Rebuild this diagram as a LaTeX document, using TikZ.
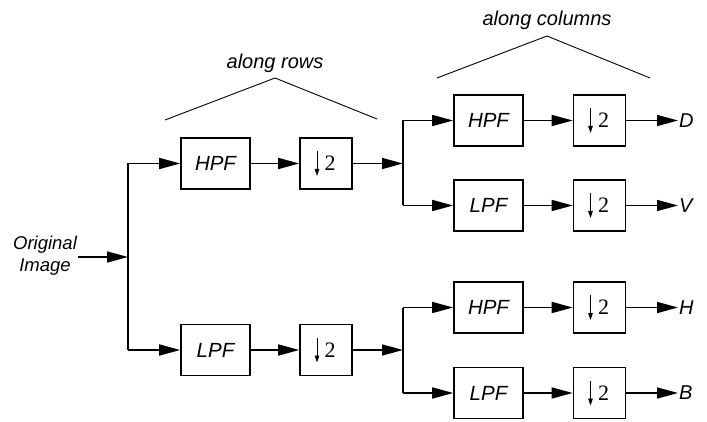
\documentclass[tikz,border=0pt]{standalone}
\usepackage[no-math]{fontspec}
\setmainfont{Liberation Sans}
\newfontfamily\twofont{Liberation Serif}
\usetikzlibrary{arrows.meta}
\newcommand{\dsamp}[3]{%
  \node[dn] (#1) at (#2,#3) {};
  \node[twol] (#1-two) at ([xshift=4pt]#1.center) {2};
  \draw[darr] ([xshift=-9pt,yshift=12.5pt]#1.center) -- ([xshift=-9pt,yshift=-12.5pt]#1.center);}
\begin{document}
\begin{tikzpicture}[x=1pt,y=-1pt,
 filt/.style={draw, line width=1.6pt, minimum width=69pt, minimum height=51pt, inner sep=0pt, font=\fontsize{20.5}{22}\selectfont\itshape},
 dn/.style={draw, line width=1.6pt, minimum width=52pt, minimum height=51pt, inner sep=0pt},
 twol/.style={inner sep=0pt, font=\fontsize{22}{22}\selectfont\twofont},
 darr/.style={line width=0.8pt, -{Triangle[length=7pt,width=4.5pt]}},
 lbl/.style={font=\fontsize{20}{22}\selectfont\itshape, inner sep=1pt},
 wire/.style={line width=1.6pt},
 arr/.style={wire, -{Triangle[length=21pt,width=11pt]}},
 bracket/.style={line width=0.9pt}]
\useasboundingbox (0,0) rectangle (707,422);

% input
\node[lbl, align=center, font=\fontsize{18.5}{22}\selectfont\itshape] (orig) at (45,256) {Original\\Image};
\coordinate (j1) at (128,257);

% stage 1
\node[filt] (h1) at (215.5,163.5) {HPF};
\dsamp{dh1}{326}{163.5}
\node[filt] (l1) at (215.5,350) {LPF};
\dsamp{dl1}{326}{350}

\coordinate (j2) at (403,163.5);
\coordinate (j3) at (403,350);

% stage 2 top
\node[filt] (hh) at (488.5,120.5) {HPF};
\dsamp{dhh}{599.5}{120.5}
\node[filt] (hl) at (488.5,205.5) {LPF};
\dsamp{dhl}{599.5}{205.5}
\node[lbl, anchor=west] (D) at (678,120.5) {D};
\node[lbl, anchor=west] (V) at (678,205.5) {V};

% stage 2 bottom
\node[filt] (lh) at (488.5,307.5) {HPF};
\dsamp{dlh}{599.5}{307.5}
\node[filt] (ll) at (488.5,393) {LPF};
\dsamp{dll}{599.5}{393}
\node[lbl, anchor=west] (H) at (678,307.5) {H};
\node[lbl, anchor=west] (B) at (678,393) {B};

% wires stage 1
\draw[arr] (orig.east |- j1) -- (j1);
\draw[wire] (h1.west -| j1) -- (l1.west -| j1);
\draw[arr] (h1.west -| j1) -- (h1.west);
\draw[arr] (l1.west -| j1) -- (l1.west);
\draw[arr] (h1) -- (dh1);
\draw[arr] (l1) -- (dl1);
\draw[arr] (dh1) -- (j2);
\draw[arr] (dl1) -- (j3);

% wires stage 2 top
\draw[wire] (hh.west -| j2) -- (hl.west -| j2);
\draw[arr] (hh.west -| j2) -- (hh.west);
\draw[arr] (hl.west -| j2) -- (hl.west);
\draw[arr] (hh) -- (dhh);
\draw[arr] (hl) -- (dhl);
\draw[arr] (dhh) -- (D);
\draw[arr] (dhl) -- (V);

% wires stage 2 bottom
\draw[wire] (lh.west -| j3) -- (ll.west -| j3);
\draw[arr] (lh.west -| j3) -- (lh.west);
\draw[arr] (ll.west -| j3) -- (ll.west);
\draw[arr] (lh) -- (dlh);
\draw[arr] (ll) -- (dll);
\draw[arr] (dlh) -- (H);
\draw[arr] (dll) -- (B);

% brackets
\coordinate (r1) at (165,120);
\coordinate (r2) at (275,78);
\coordinate (r3) at (377,119);
\draw[bracket] (r1) -- (r2) -- (r3);
\node[lbl] (rows) at (275,63) {along rows};
\coordinate (c1) at (437,78);
\coordinate (c2) at (547,36);
\coordinate (c3) at (650,78);
\draw[bracket] (c1) -- (c2) -- (c3);
\node[lbl] (cols) at (547,20) {along columns};
\end{tikzpicture}
\end{document}
